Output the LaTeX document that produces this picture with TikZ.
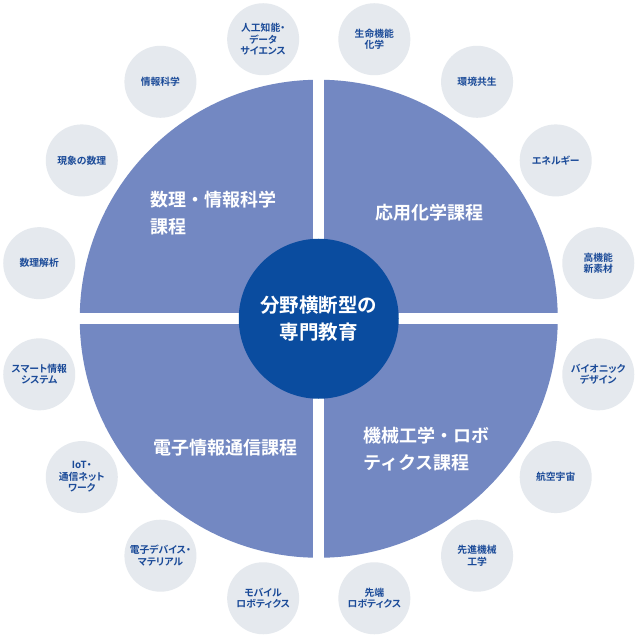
\documentclass[tikz,border=0pt]{standalone}
\usepackage{fontspec}
\usetikzlibrary{calc}
\setmainfont{Noto Sans CJK JP}[BoldFont=* Bold]
\newfontfamily\smallfont{Noto Sans CJK JP}[BoldFont=* Bold,RawFeature=+palt]
\definecolor{quad}{HTML}{7388C2}
\definecolor{centerblue}{HTML}{0A4C9F}
\definecolor{greycirc}{HTML}{E5E9EE}
\definecolor{textblue}{HTML}{1A4A98}
\tikzset{
  smallcirc/.style={circle, fill=greycirc, minimum size=72pt, inner sep=0pt,
    align=center, text=textblue, font=\smallfont\bfseries\fontsize{9.8}{11.6}\selectfont},
  quadlabel/.style={text=white, inner sep=0pt, font=\bfseries\fontsize{18}{27}\selectfont},
  centerlabel/.style={circle, fill=centerblue, minimum size=160pt, inner sep=0pt,
    align=center, text=white, font=\bfseries\fontsize{19.5}{27.5}\selectfont}
}
\begin{document}
\begin{tikzpicture}[x=1pt,y=-1pt]
\useasboundingbox[fill=white] (0,0) rectangle (640,639);
\coordinate (c) at (318.75,318.75);
\begin{scope}
  \clip (c) circle (239);
  \fill[quad] (0,0) rectangle (313.25,313.25);
  \fill[quad] (324.25,0) rectangle (640,313.25);
  \fill[quad] (0,324.25) rectangle (313.25,639);
  \fill[quad] (324.25,324.25) rectangle (640,639);
\end{scope}
\node[centerlabel] (center) at (c) {分野横断型の\\専門教育};
\node[quadlabel, anchor=west, align=left] (q1) at (150,213.5) {数理・情報科学\\課程};
\node[quadlabel] (q2) at (429.5,213) {応用化学課程};
\node[quadlabel] (q3) at (225,448) {電子情報通信課程};
\node[quadlabel, anchor=west, align=left] (q4) at (363,449.5) {機械工学・ロボ\\ティクス課程};
\foreach \a/\t [count=\i] in {
  11.25/{高機能\\新素材},
  33.75/{エネルギー},
  56.25/{環境共生},
  78.75/{生命機能\\化学},
  101.25/{人工知能・\\データ\\サイエンス},
  123.75/{情報科学},
  146.25/{現象の数理},
  168.75/{数理解析},
  191.25/{スマート情報\\システム},
  213.75/{IoT・\\通信ネット\\ワーク},
  236.25/{電子デバイス・\\マテリアル},
  258.75/{モバイル\\ロボティクス},
  281.25/{先端\\ロボティクス},
  303.75/{先進機械\\工学},
  326.25/{航空宇宙},
  348.75/{バイオニック\\デザイン}}
  \node[smallcirc] (s\i) at ($(c)+(-\a:285)$) {\t};
\end{tikzpicture}
\end{document}
